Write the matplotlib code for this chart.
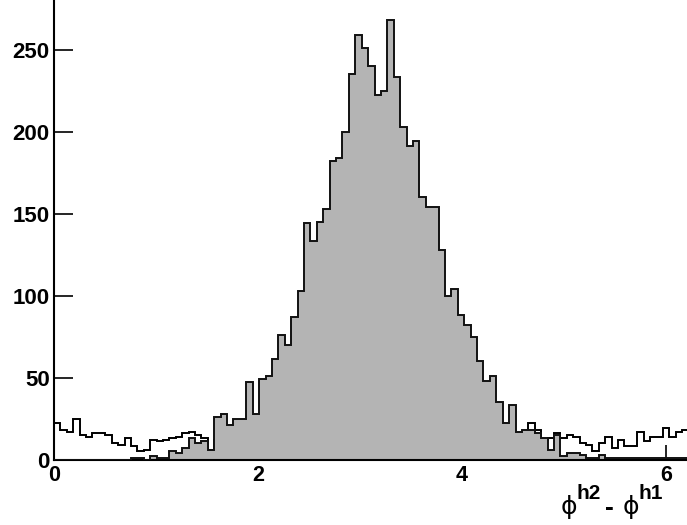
import numpy as np
import matplotlib
matplotlib.use('Agg')
import matplotlib.pyplot as plt

plt.rcParams['font.family'] = ['Liberation Sans', 'DejaVu Sans']

# 100 bins between 0 and 2pi
n_bins = 100
x_min = 0.0
x_max = 2 * np.pi

# filled histogram (grey)
filled = [0, 0, 0, 0, 0, 0, 0, 0, 0, 0,
          0, 0, 1, 1, 0, 2, 1, 1, 5, 4,
          7, 13, 10, 11, 6, 26, 28, 21, 25, 25,
          47, 28, 49, 51, 61, 76, 70, 87, 103, 144,
          133, 145, 153, 182, 184, 200, 235, 259, 251, 240,
          222, 225, 268, 233, 203, 191, 194, 160, 154, 154,
          128, 100, 104, 88, 82, 75, 60, 48, 51, 35,
          22, 33, 17, 18, 18, 16, 13, 6, 15, 2,
          4, 4, 3, 1, 1, 3, 1, 1, 1, 1,
          1, 1, 1, 1, 1, 1, 1, 1, 1, 1]

# open histogram (outline only)
outline = [22, 18, 17, 25, 15, 14, 16, 16, 15, 10,
           9, 13, 8, 5, 6, 12, 11, 12, 13, 14,
           16, 17, 15, 13, 6, 12, 10, 14, 11, 13,
           9, 12, 15, 10, 11, 13, 12, 9, 14, 11,
           10, 12, 13, 9, 11, 12, 10, 14, 8, 11,
           13, 10, 12, 9, 11, 10, 13, 12, 9, 11,
           10, 12, 14, 10, 11, 9, 12, 13, 10, 11,
           12, 14, 15, 16, 22, 18, 12, 13, 16, 13,
           15, 14, 10, 9, 5, 10, 14, 7, 12, 8,
           8, 17, 11, 14, 14, 19, 14, 17, 18, 18]

y_ticks = [0, 50, 100, 150, 200, 250]
x_ticks = [0, 2, 4, 6]

edges = np.linspace(x_min, x_max, n_bins + 1)

fig = plt.figure(figsize=(6.87, 5.25), dpi=100)
# the canvas is cut at the top and on the right, like the original
ax = fig.add_axes([54 / 687, 65.5 / 525, 641 / 687, 461.8 / 525])
ax.set_axisbelow(True)

ax.stairs(outline, edges, color='black', linewidth=1.4, zorder=1)
ax.stairs(filled, edges, fill=True, color='#b4b4b4', zorder=2)
ax.stairs(filled, edges, color='#111111', linewidth=1.4, zorder=3)

ax.set_xlim(x_min, x_max)
ax.set_ylim(0, 281.6)
ax.set_xticks(x_ticks)
ax.set_yticks(y_ticks)

for s in ['top', 'right']:
    ax.spines[s].set_visible(False)
for s in ['left', 'bottom']:
    ax.spines[s].set_linewidth(1.5)

ax.tick_params(axis='y', direction='in', length=13.7, width=1.2, pad=3, labelsize=16)
ax.tick_params(axis='x', direction='in', length=11, width=1.2, pad=4, labelsize=15.5)
for lab in ax.get_xticklabels() + ax.get_yticklabels():
    lab.set_fontweight('bold')

# axis title  phi^h2 - phi^h1
def px(x, y):
    return x / 687, 1 - y / 525

fig.text(*px(561, 514), '\u03d5', family='DejaVu Sans', fontsize=18, ha='left', va='baseline')
fig.text(*px(576, 499), 'h2', fontsize=15, fontweight='bold', ha='left', va='baseline')
fig.text(*px(605, 515), '-', fontsize=19, fontweight='bold', ha='left', va='baseline')
fig.text(*px(623, 514), '\u03d5', family='DejaVu Sans', fontsize=18, ha='left', va='baseline')
fig.text(*px(638, 499), 'h1', fontsize=15, fontweight='bold', ha='left', va='baseline')

fig.savefig('out.png', dpi=100)
plt.close()
